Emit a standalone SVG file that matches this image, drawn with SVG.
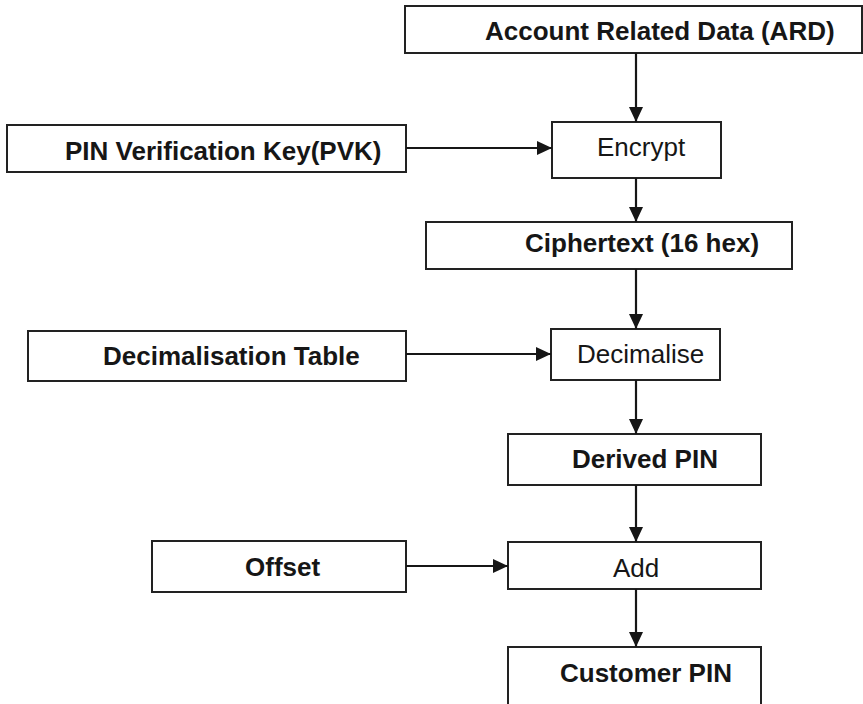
<svg xmlns="http://www.w3.org/2000/svg" width="863" height="704" viewBox="0 0 863 704">
  <style>
    .box { fill: #ffffff; stroke: #222222; stroke-width: 2; }
    .lbl { font-family: "Liberation Sans", Arial, sans-serif; font-size: 26px; fill: #161616; }
    .b { font-weight: bold; }
    .edge { stroke: #161616; stroke-width: 2.2; fill: none; marker-end: url(#arrow); }
  </style>
  <defs>
    <marker id="arrow" markerUnits="userSpaceOnUse" markerWidth="16" markerHeight="14" refX="15" refY="7" orient="auto">
      <path d="M0,0 L15,7 L0,14 Z" fill="#161616"/>
    </marker>
  </defs>

  <rect width="863" height="704" fill="#ffffff"/>

  <!-- inputs and intermediate values -->
  <g id="ard">
    <rect class="box" x="405" y="6" width="457" height="47"/>
    <text class="lbl b" x="485" y="40">Account Related Data (ARD)</text>
  </g>
  <g id="pvk">
    <rect class="box" x="7" y="125" width="399" height="47"/>
    <text class="lbl b" x="65" y="160">PIN Verification Key(PVK)</text>
  </g>
  <g id="encrypt">
    <rect class="box" x="552" y="122" width="169" height="56"/>
    <text class="lbl" x="597" y="156">Encrypt</text>
  </g>
  <g id="ciphertext">
    <rect class="box" x="426" y="222" width="366" height="47"/>
    <text class="lbl b" x="525" y="252">Ciphertext (16 hex)</text>
  </g>
  <g id="dectable">
    <rect class="box" x="28" y="331" width="378" height="50"/>
    <text class="lbl b" x="103" y="365">Decimalisation Table</text>
  </g>
  <g id="decimalise">
    <rect class="box" x="551" y="329" width="169" height="51"/>
    <text class="lbl" x="577" y="363">Decimalise</text>
  </g>
  <g id="derived">
    <rect class="box" x="508" y="434" width="253" height="51"/>
    <text class="lbl b" x="572" y="468">Derived PIN</text>
  </g>
  <g id="offset">
    <rect class="box" x="152" y="541" width="254" height="51"/>
    <text class="lbl b" x="245" y="576">Offset</text>
  </g>
  <g id="add">
    <rect class="box" x="508" y="542" width="253" height="47"/>
    <text class="lbl" x="613" y="577">Add</text>
  </g>
  <g id="customer">
    <rect class="box" x="508" y="647" width="253" height="70"/>
    <text class="lbl b" x="560" y="682">Customer PIN</text>
  </g>

  <!-- connectors -->
  <g id="connectors">
    <line class="edge" x1="636" y1="53" x2="636" y2="122"/>
    <line class="edge" x1="406" y1="148" x2="552" y2="148"/>
    <line class="edge" x1="636" y1="178" x2="636" y2="222"/>
    <line class="edge" x1="636" y1="269" x2="636" y2="329"/>
    <line class="edge" x1="406" y1="354" x2="551" y2="354"/>
    <line class="edge" x1="636" y1="380" x2="636" y2="434"/>
    <line class="edge" x1="636" y1="485" x2="636" y2="542"/>
    <line class="edge" x1="406" y1="566" x2="508" y2="566"/>
    <line class="edge" x1="636" y1="589" x2="636" y2="647"/>
  </g>
</svg>
